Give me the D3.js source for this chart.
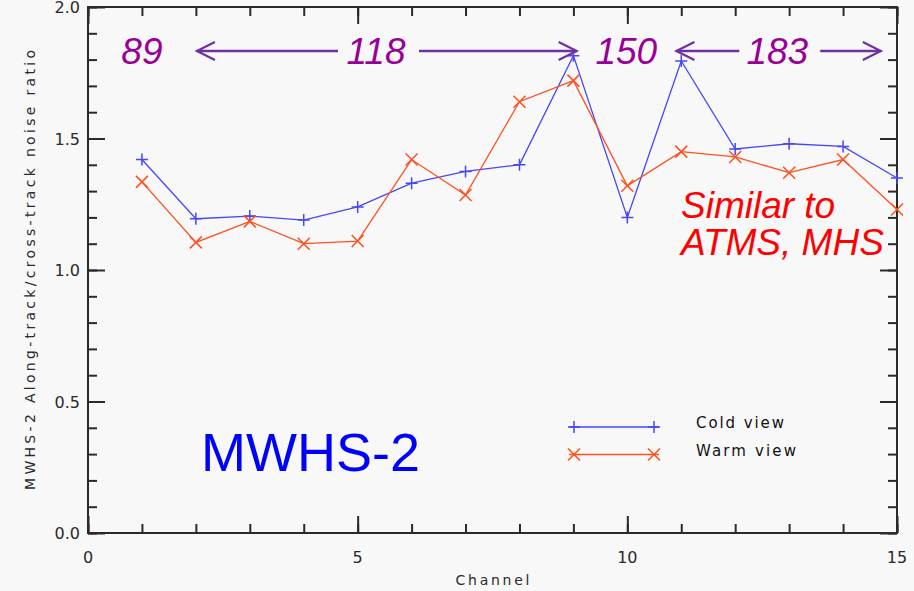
<!DOCTYPE html>
<html>
<head>
<meta charset="utf-8">
<script src="https://cdn.jsdelivr.net/npm/d3@7"></script>
<style>
  body { margin: 0; background: #f8f8f8; }
  svg { display: block; }
</style>
</head>
<body>
<div id="chart"></div>
<script>
const width = 914, height = 591;
const margin = { top: 7, right: 17, bottom: 58, left: 88 };

const channels = [1, 2, 3, 4, 5, 6, 7, 8, 9, 10, 11, 12, 13, 14, 15];
const coldView = [1.42, 1.195, 1.205, 1.19, 1.24, 1.33, 1.375, 1.40, 1.815, 1.20, 1.795, 1.46, 1.48, 1.47, 1.35];
const warmView = [1.335, 1.105, 1.185, 1.10, 1.11, 1.42, 1.285, 1.64, 1.72, 1.32, 1.45, 1.43, 1.37, 1.42, 1.23];
const xTicks = [0, 5, 10, 15];
const yTicks = [0, 0.5, 1.0, 1.5, 2.0];

// frequency bands across the top (label centre and arrow tips in channel units)
const bands = [
  { label: "89", at: 1.0 },
  { label: "118", at: 5.34, from: 2.02, to: 9.06 },
  { label: "150", at: 9.98 },
  { label: "183", at: 12.78, from: 10.91, to: 14.7 }
];

const svg = d3.select("#chart").append("svg")
  .attr("width", width)
  .attr("height", height)
  .style("background", "#f8f8f8");

const innerWidth = width - margin.left - margin.right;
const innerHeight = height - margin.top - margin.bottom;

const g = svg.append("g").attr("transform", `translate(${margin.left},${margin.top})`);

// scales map straight to page pixels so every text can sit on the svg itself
const x = d3.scaleLinear().domain([0, 15]).range([margin.left, margin.left + innerWidth]);
const y = d3.scaleLinear().domain([0, 2]).range([margin.top + innerHeight, margin.top]);
const xi = x.copy().range([0, innerWidth]);
const yi = y.copy().range([innerHeight, 0]);

const axisColor = "#2a2a2a";
const tickFont = "'DejaVu Sans', sans-serif";

// tick marks on all four sides (pointing inwards), minor then major
const xMinor = d3.range(0, 15.01, 1);
const yMinor = d3.range(0, 2.001, 0.1);

function styleAxis(sel) {
  sel.select(".domain").remove();
  sel.selectAll("text").remove();
  sel.selectAll("line").attr("stroke", axisColor).attr("stroke-width", 2);
}

g.append("g").attr("transform", `translate(0,${innerHeight})`)
  .call(d3.axisBottom(xi).tickValues(xMinor).tickSize(-9)).call(styleAxis);
g.append("g").attr("transform", `translate(0,${innerHeight})`)
  .call(d3.axisBottom(xi).tickValues(xTicks).tickSize(-17)).call(styleAxis);
g.append("g")
  .call(d3.axisTop(xi).tickValues(xMinor).tickSize(-9)).call(styleAxis);
g.append("g")
  .call(d3.axisTop(xi).tickValues(xTicks).tickSize(-17)).call(styleAxis);
g.append("g")
  .call(d3.axisLeft(yi).tickValues(yMinor).tickSize(-9)).call(styleAxis);
g.append("g")
  .call(d3.axisLeft(yi).tickValues(yTicks).tickSize(-17)).call(styleAxis);
g.append("g").attr("transform", `translate(${innerWidth},0)`)
  .call(d3.axisRight(yi).tickValues(yMinor).tickSize(-9)).call(styleAxis);
g.append("g").attr("transform", `translate(${innerWidth},0)`)
  .call(d3.axisRight(yi).tickValues(yTicks).tickSize(-17)).call(styleAxis);

// frame
g.append("rect")
  .attr("width", innerWidth).attr("height", innerHeight)
  .attr("fill", "none").attr("stroke", axisColor).attr("stroke-width", 2);

// tick labels
svg.selectAll("text.xtick").data(xTicks).join("text")
  .attr("class", "xtick")
  .attr("x", d => x(d)).attr("y", y(0) + 30)
  .attr("text-anchor", "middle")
  .attr("font-family", tickFont).attr("font-size", 16).attr("fill", axisColor)
  .text(d => d);

svg.selectAll("text.ytick").data(yTicks).join("text")
  .attr("class", "ytick")
  .attr("x", margin.left - 8).attr("y", d => y(d) + 6)
  .attr("text-anchor", "end")
  .attr("font-family", tickFont).attr("font-size", 16).attr("fill", axisColor)
  .text(d => d.toFixed(1));

// axis titles
svg.append("text")
  .attr("x", margin.left + innerWidth / 2).attr("y", height - 6)
  .attr("text-anchor", "middle")
  .attr("font-family", tickFont).attr("font-size", 14).attr("fill", axisColor)
  .attr("textLength", 74)
  .text("Channel");

svg.append("text")
  .attr("transform", `translate(35, ${margin.top + innerHeight / 2}) rotate(-90)`)
  .attr("text-anchor", "middle")
  .attr("font-family", tickFont).attr("font-size", 14).attr("fill", axisColor)
  .attr("textLength", 440)
  .text("MWHS-2 Along-track/cross-track noise ratio");

// series
const series = [
  { name: "Cold view", values: coldView, color: "#4646ff", marker: "plus" },
  { name: "Warm view", values: warmView, color: "#ff4f1e", marker: "cross" }
];

const line = d3.line().x(d => x(d[0])).y(d => y(d[1]));

function drawMarker(sel, type, cx, cy, color) {
  const s = 6;
  const p = type === "plus"
    ? `M${cx - s},${cy}H${cx + s}M${cx},${cy - s}V${cy + s}`
    : `M${cx - s},${cy - s}L${cx + s},${cy + s}M${cx - s},${cy + s}L${cx + s},${cy - s}`;
  sel.append("path").attr("d", p).attr("stroke", color).attr("stroke-width", 1.5).attr("fill", "none");
}

series.forEach(s => {
  const pts = channels.map((c, i) => [c, s.values[i]]);
  svg.append("path").datum(pts)
    .attr("fill", "none").attr("stroke", s.color).attr("stroke-width", 1.3)
    .attr("d", line);
  pts.forEach(p => drawMarker(svg, s.marker, x(p[0]), y(p[1]), s.color));
});

// legend
series.forEach((s, i) => {
  const ly = 427 + i * 27.5;
  svg.append("line").attr("x1", 569).attr("x2", 659).attr("y1", ly).attr("y2", ly)
    .attr("stroke", s.color).attr("stroke-width", 1.5);
  drawMarker(svg, s.marker, 574, ly, s.color);
  drawMarker(svg, s.marker, 654, ly, s.color);
  svg.append("text").attr("x", 696).attr("y", ly + 1)
    .attr("font-family", tickFont).attr("font-size", 15).attr("fill", "#111")
    .attr("textLength", i === 0 ? 88 : 100)
    .text(s.name);
});

// band annotations
const purple = "#990099", arrowColor = "#7030a0";
const ay = 51;
bands.forEach(b => {
  svg.append("text")
    .attr("x", x(b.at)).attr("y", ay + 13)
    .attr("text-anchor", "middle")
    .attr("font-family", "'Liberation Sans', Arial, sans-serif")
    .attr("font-style", "italic").attr("font-size", 37)
    .attr("fill", purple)
    .text(b.label);
});

function arrowHead(x0, dir) {
  svg.append("path")
    .attr("d", `M${x0 - dir * 18},${ay - 9}L${x0},${ay}L${x0 - dir * 18},${ay + 9}`)
    .attr("fill", "none").attr("stroke", arrowColor).attr("stroke-width", 2.2);
}

bands.filter(b => b.from !== undefined).forEach(b => {
  const cx = x(b.at);
  svg.append("line").attr("x1", x(b.from)).attr("x2", cx - 38).attr("y1", ay).attr("y2", ay)
    .attr("stroke", arrowColor).attr("stroke-width", 2.4);
  svg.append("line").attr("x1", cx + 43).attr("x2", x(b.to)).attr("y1", ay).attr("y2", ay)
    .attr("stroke", arrowColor).attr("stroke-width", 2.4);
  arrowHead(x(b.from), -1);
  arrowHead(x(b.to), 1);
});

// text notes
svg.append("text")
  .attr("font-family", "'Liberation Sans', Arial, sans-serif")
  .attr("font-style", "italic").attr("font-size", 37).attr("fill", "#ff0000")
  .selectAll("tspan").data(["Similar to", "ATMS, MHS"]).join("tspan")
  .attr("x", 681).attr("y", (d, i) => 218 + i * 37)
  .text(d => d);

svg.append("text")
  .attr("x", 201).attr("y", 471)
  .attr("font-family", "'Liberation Sans', Arial, sans-serif")
  .attr("font-size", 54).attr("fill", "#0000ff")
  .text("MWHS-2");
</script>
</body>
</html>
